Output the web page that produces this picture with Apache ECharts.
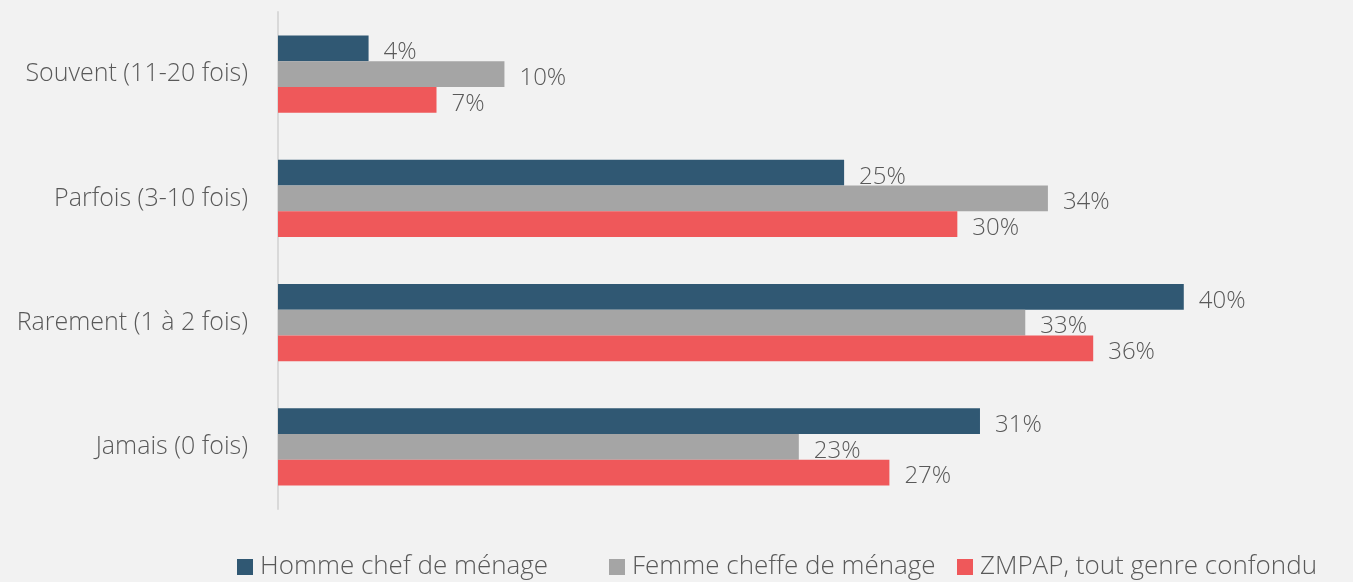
<!DOCTYPE html>
<html>
<head>
<meta charset="utf-8">
<script src="https://cdn.jsdelivr.net/npm/echarts@6/dist/echarts.min.js"></script>
<style>
  html, body { margin: 0; padding: 0; background: #f2f2f2; }
  #chart { width: 1353px; height: 582px; }
</style>
</head>
<body>
<div id="chart"></div>
<script>
const categories = ["Souvent (11-20 fois)", "Parfois (3-10 fois)", "Rarement (1 à 2 fois)", "Jamais (0 fois)"];
const seriesNames = ["Homme chef de ménage", "Femme cheffe de ménage", "ZMPAP, tout genre confondu"];
const hommeValues = [4, 25, 40, 31];
const femmeValues = [10, 34, 33, 23];
const zmpapValues = [7, 30, 36, 27];

const COLORS = ["#305873", "#a5a5a5", "#ef585a"];
const FONT = "'Open Sans', 'Noto Sans', sans-serif";
const TEXT_COLOR = "#595959";

const chart = echarts.init(document.getElementById("chart"));

function makeSeries(name, data, color) {
  return {
    name,
    type: "bar",
    data,
    barGap: "0%",
    barCategoryGap: "38%",
    itemStyle: { color },
    label: {
      show: true,
      position: "right",
      distance: 15,
      offset: [0, 4],
      formatter: "{c}%",
      color: TEXT_COLOR,
      fontFamily: FONT,
      fontWeight: 300,
      fontSize: 24,
    },
  };
}

// each legend item placed where it sits in the original
const legendX = [237, 609, 957];

chart.setOption({
  backgroundColor: "#f2f2f2",
  animation: false,
  color: COLORS,
  grid: { left: 278, right: 56, top: 12, bottom: 73, containLabel: false },
  legend: seriesNames.map((n, i) => ({
    data: [n],
    left: legendX[i],
    bottom: 2,
    padding: 0,
    itemWidth: 16,
    itemHeight: 16,
    icon: "rect",
    textStyle: { color: TEXT_COLOR, fontFamily: FONT, fontWeight: 300, fontSize: 26, padding: [0, 0, 0, 2] },
  })),
  xAxis: {
    type: "value",
    min: 0,
    max: 45,
    show: false,
  },
  yAxis: {
    type: "category",
    data: categories,
    inverse: true,
    axisLine: { lineStyle: { color: "#d9d9d9", width: 2 } },
    axisTick: { show: false },
    axisLabel: {
      margin: 30,
      color: TEXT_COLOR,
      fontFamily: FONT,
      fontWeight: 300,
      fontSize: 25,
    },
  },
  series: [
    makeSeries(seriesNames[0], hommeValues, COLORS[0]),
    makeSeries(seriesNames[1], femmeValues, COLORS[1]),
    makeSeries(seriesNames[2], zmpapValues, COLORS[2]),
  ],
});
</script>
</body>
</html>
